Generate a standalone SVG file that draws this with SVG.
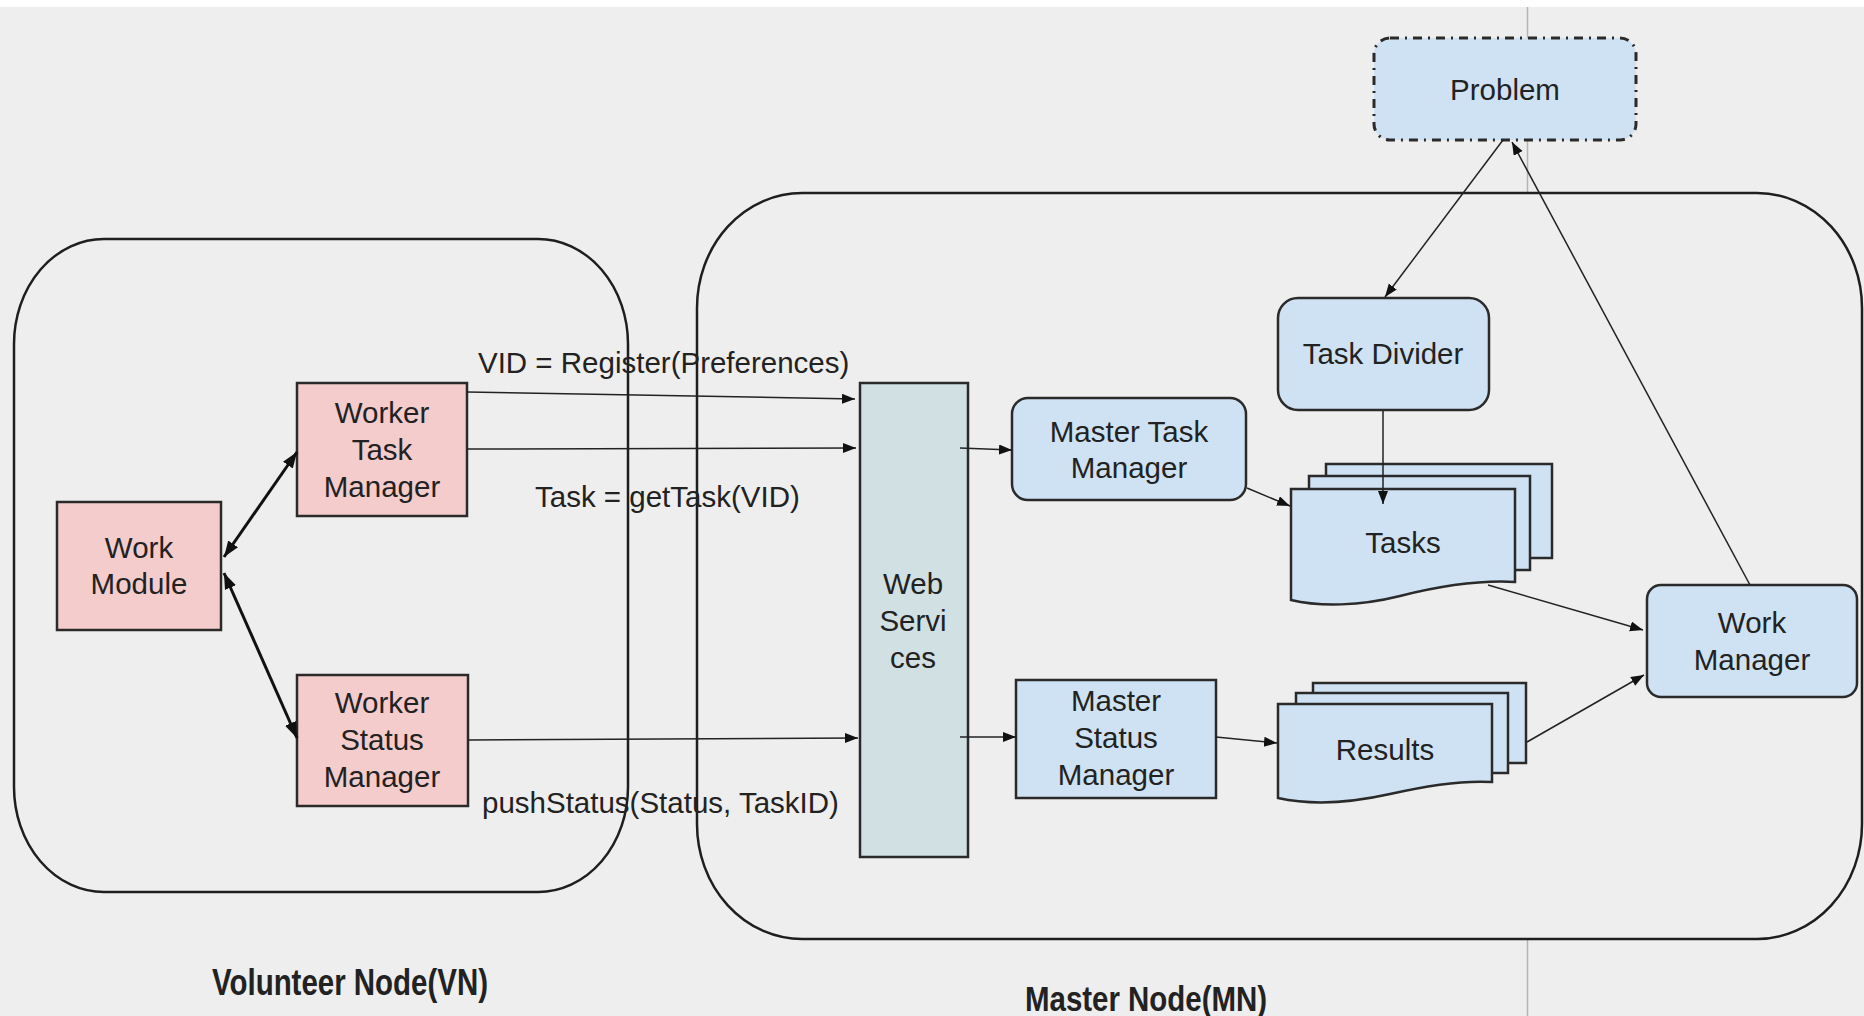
<svg xmlns="http://www.w3.org/2000/svg" width="1864" height="1016" viewBox="0 0 1864 1016">
<style>
  .bg { fill: #eeeeee; }
  .container { fill: #eeeeee; stroke: #1e1e1e; stroke-width: 2.5; }
  .pink { fill: #f4cccc; stroke: #2a2a2a; stroke-width: 2.5; }
  .blue { fill: #cfe2f3; stroke: #2a2a2a; stroke-width: 2.5; }
  .teal { fill: #d0e0e3; stroke: #2a2a2a; stroke-width: 2.5; }
  .dashdot { fill: #cfe2f3; stroke: #2a2a2a; stroke-width: 3; stroke-dasharray: 9 6 2 6; }
  text { font-family: "Liberation Sans", Arial, sans-serif; font-size: 29.5px; fill: #222222; }
  .c { text-anchor: middle; }
  .bold { font-weight: bold; }
  .conn { fill: none; stroke: #222222; stroke-width: 1.5; }
  .thick { fill: none; stroke: #111111; stroke-width: 3; }
</style>
<defs>
  <marker id="arr" markerUnits="userSpaceOnUse" markerWidth="14" markerHeight="11" refX="13" refY="5" orient="auto">
    <path d="M0,0 L13,5 L0,10 z" fill="#111111"/>
  </marker>
  <marker id="arrT" markerUnits="userSpaceOnUse" markerWidth="17" markerHeight="13" refX="16" refY="6" orient="auto-start-reverse">
    <path d="M0,0 L16,6 L0,12 z" fill="#111111"/>
  </marker>
</defs>

<rect class="bg" x="0" y="0" width="1864" height="1016"/>
<rect x="0" y="0" width="1864" height="7" fill="#ffffff"/>
<line x1="1527.5" y1="7" x2="1527.5" y2="1016" stroke="#b5b5b5" stroke-width="1.5"/>

<g id="volunteer-node">
  <rect class="container" x="14" y="239" width="614" height="653" rx="90" ry="105"/>
  <text class="bold" x="212" y="995" textLength="276" lengthAdjust="spacingAndGlyphs" style="font-size:36px">Volunteer Node(VN)</text>
</g>
<g id="master-node">
  <rect class="container" x="697" y="193" width="1165" height="746" rx="105" ry="115"/>
  <text class="bold" x="1025" y="1011" textLength="242" lengthAdjust="spacingAndGlyphs" style="font-size:35px">Master Node(MN)</text>
</g>

<g id="work-module">
  <rect class="pink" x="57" y="502" width="164" height="128"/>
  <text class="c" x="139" y="558">Work</text>
  <text class="c" x="139" y="594">Module</text>
</g>
<g id="worker-task-manager">
  <rect class="pink" x="297" y="383" width="170" height="133"/>
  <text class="c" x="382" y="423">Worker</text>
  <text class="c" x="382" y="460">Task</text>
  <text class="c" x="382" y="497">Manager</text>
</g>
<g id="worker-status-manager">
  <rect class="pink" x="297" y="675" width="171" height="131"/>
  <text class="c" x="382" y="713">Worker</text>
  <text class="c" x="382" y="750">Status</text>
  <text class="c" x="382" y="787">Manager</text>
</g>
<g id="web-services">
  <rect class="teal" x="860" y="383" width="108" height="474"/>
  <text class="c" x="913" y="594">Web</text>
  <text class="c" x="913" y="631">Servi</text>
  <text class="c" x="913" y="668">ces</text>
</g>
<g id="master-task-manager">
  <rect class="blue" x="1012" y="398" width="234" height="102" rx="16" ry="16"/>
  <text class="c" x="1129" y="442">Master Task</text>
  <text class="c" x="1129" y="478">Manager</text>
</g>
<g id="master-status-manager">
  <rect class="blue" x="1016" y="680" width="200" height="118"/>
  <text class="c" x="1116" y="711">Master</text>
  <text class="c" x="1116" y="748">Status</text>
  <text class="c" x="1116" y="785">Manager</text>
</g>
<g id="task-divider">
  <rect class="blue" x="1278" y="298" width="211" height="112" rx="20" ry="20"/>
  <text class="c" x="1383" y="364">Task Divider</text>
</g>
<g id="problem">
  <rect class="dashdot" x="1374" y="38" width="262" height="102" rx="16" ry="16"/>
  <text class="c" x="1505" y="100">Problem</text>
</g>
<g id="tasks">
  <rect class="blue" x="1326" y="464" width="226" height="94"/>
  <rect class="blue" x="1309" y="476" width="221" height="94"/>
  <path class="blue" d="M1291,489 H1515 V582 C1480,580 1440,586 1400,596 C1360,606 1320,607 1291,600 Z"/>
  <text class="c" x="1403" y="553">Tasks</text>
</g>
<g id="results">
  <rect class="blue" x="1313" y="683" width="213" height="80"/>
  <rect class="blue" x="1296" y="693" width="212" height="80"/>
  <path class="blue" d="M1278,704 H1492 V782 C1460,780 1425,786 1390,794 C1350,803 1310,805 1278,798 Z"/>
  <text class="c" x="1385" y="760">Results</text>
</g>
<g id="work-manager">
  <rect class="blue" x="1647" y="585" width="210" height="112" rx="14" ry="14"/>
  <text class="c" x="1752" y="633">Work</text>
  <text class="c" x="1752" y="670">Manager</text>
</g>

<g id="connectors">
  <line class="thick" x1="224" y1="557" x2="297" y2="452" marker-start="url(#arrT)" marker-end="url(#arrT)"/>
  <line class="thick" x1="224" y1="573" x2="297" y2="738" marker-start="url(#arrT)" marker-end="url(#arrT)"/>
  <line class="conn" x1="467" y1="392" x2="855" y2="399" marker-end="url(#arr)"/>
  <line class="conn" x1="467" y1="449" x2="856" y2="448" marker-end="url(#arr)"/>
  <line class="conn" x1="468" y1="740" x2="858" y2="738" marker-end="url(#arr)"/>
  <line class="conn" x1="960" y1="448" x2="1012" y2="450" marker-end="url(#arr)"/>
  <line class="conn" x1="960" y1="737" x2="1016" y2="737" marker-end="url(#arr)"/>
  <line class="conn" x1="1247" y1="488" x2="1290" y2="506" marker-end="url(#arr)"/>
  <line class="conn" x1="1216" y1="737" x2="1277" y2="743" marker-end="url(#arr)"/>
  <line class="conn" x1="1383" y1="411" x2="1383" y2="504" marker-end="url(#arr)"/>
  <line class="conn" x1="1503" y1="140" x2="1385" y2="297" marker-end="url(#arr)"/>
  <line class="conn" x1="1750" y1="585" x2="1512" y2="142" marker-end="url(#arr)"/>
  <line class="conn" x1="1488" y1="585" x2="1643" y2="630" marker-end="url(#arr)"/>
  <line class="conn" x1="1527" y1="742" x2="1644" y2="675" marker-end="url(#arr)"/>
  <text x="478" y="373">VID = Register(Preferences)</text>
  <text x="535" y="507">Task = getTask(VID)</text>
  <text x="482" y="813">pushStatus(Status, TaskID)</text>
</g>
</svg>
